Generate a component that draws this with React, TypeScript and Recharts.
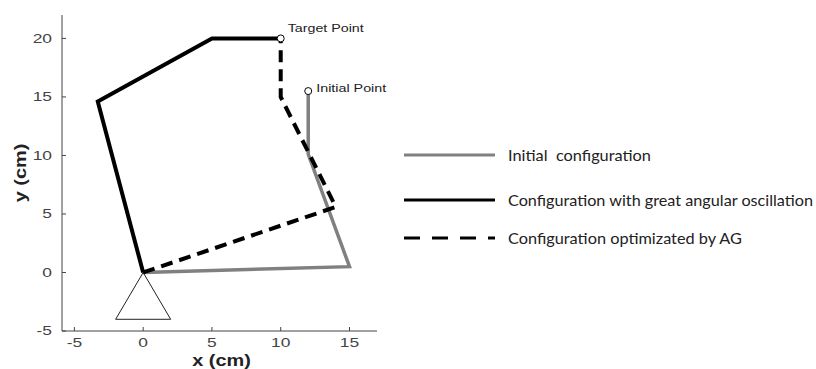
import React from 'react';
import { ComposedChart, Line, Scatter, XAxis, YAxis } from 'recharts';

// joint positions (cm)
const initialConfig = [
  { x: 0, y: 0 },
  { x: 15, y: 0.5 },
  { x: 12, y: 10.1 },
  { x: 12, y: 15.5 },
];
const oscillationConfig = [
  { x: 0, y: 0 },
  { x: -3.3, y: 14.6 },
  { x: 5, y: 20 },
  { x: 10, y: 20 },
];
const optimizedConfig = [
  { x: 0, y: 0 },
  { x: 14, y: 5.6 },
  { x: 10, y: 15 },
  { x: 10, y: 20 },
];
const baseTriangle = [
  { x: -2, y: -4 },
  { x: 0, y: 0 },
  { x: 2, y: -4 },
  { x: -2, y: -4 },
];
const markedPoints = [
  { x: 10, y: 20, name: 'Target Point' },
  { x: 12, y: 15.5, name: 'Initial Point' },
];
const xTicks = [-5, 0, 5, 10, 15];
const yTicks = [-5, 0, 5, 10, 15, 20];
const legendNames = [
  'Initial  configuration',
  'Configuration with great angular oscillation',
  'Configuration optimizated by AG',
];

const labelOffset: Record<string, { dx: number; dy: number; len: number }> = {
  'Target Point': { dx: 7, dy: -6, len: 76 },
  'Initial Point': { dx: 8, dy: 1, len: 70 },
};

const AxisTick = (props: any) => {
  const { x, y, payload, textAnchor } = props;
  const isX = textAnchor === 'middle';
  return (
    <g transform={`translate(${isX ? x : x - 5},${y}) scale(1.45,1)`}>
      <text x={0} y={0} dy={isX ? '0.71em' : '0.355em'} textAnchor={textAnchor} fontSize={12} fill="#444"
        fontFamily="'Liberation Sans', Arial, sans-serif">
        {payload.value}
      </text>
    </g>
  );
};

const PointMarker = (props: any) => {
  const { cx, cy, payload } = props;
  const off = labelOffset[payload.name];
  return (
    <g>
      <circle cx={cx} cy={cy} r={3.5} fill="#fff" stroke="#000" strokeWidth={1} />
      <text x={cx + off.dx} y={cy + off.dy} fontSize={11} fill="#222" textLength={off.len}
        lengthAdjust="spacingAndGlyphs" fontFamily="'Liberation Sans', Arial, sans-serif">
        {payload.name}
      </text>
    </g>
  );
};

const XLabel = (props: any) => {
  const { viewBox } = props;
  const cx = viewBox.x + viewBox.width / 2 + 2;
  return (
    <g transform={`translate(${cx},${viewBox.y + 35}) scale(1.17,1)`}>
      <text x={0} y={0} textAnchor="middle" fontSize={17} fontWeight="bold" fill="#222"
        fontFamily="'Liberation Sans', Arial, sans-serif">x (cm)</text>
    </g>
  );
};

const YLabel = (props: any) => {
  const { viewBox } = props;
  const cy = viewBox.y + viewBox.height / 2;
  return (
    <g transform={`translate(26,${cy}) rotate(-90) scale(1.17,1)`}>
      <text x={0} y={0} textAnchor="middle" fontSize={17} fontWeight="bold" fill="#222"
        fontFamily="'Liberation Sans', Arial, sans-serif">y (cm)</text>
    </g>
  );
};

const legendStyles = [
  { stroke: '#808080', dash: undefined, y: 155, len: 143 },
  { stroke: '#000', dash: undefined, y: 200, len: 305 },
  { stroke: '#000', dash: '16 12', y: 238, len: 234 },
];

const ChartLegend = () => (
  <svg width={816} height={369} style={{ position: 'absolute', left: 0, top: 0, pointerEvents: 'none' }}>
    {legendNames.map((name, i) => {
      const s = legendStyles[i];
      return (
        <g key={name}>
          <line x1={404} x2={495} y1={s.y} y2={s.y} stroke={s.stroke} strokeWidth={3} strokeDasharray={s.dash} />
          <text x={508} y={s.y + 5.5} fontSize={15} fill="#222" textLength={s.len}
            lengthAdjust="spacingAndGlyphs" style={{ whiteSpace: 'pre' }}
            fontFamily="Lato, 'Open Sans', sans-serif">{name}</text>
        </g>
      );
    })}
  </svg>
);

const App: React.FC = () => {
  return (
    <div style={{ position: 'absolute', left: 0, top: 0, width: 816, height: 369, background: '#fff' }}>
      <ComposedChart width={816} height={369} margin={{ top: 15, right: 439, left: 0, bottom: 0 }}>
        <XAxis
          type="number"
          dataKey="x"
          domain={[-5.9, 17]}
          ticks={xTicks}
          height={38}
          tickSize={-4}
          tickMargin={11}
          stroke="#444"
          tick={<AxisTick />}
          label={<XLabel />}
        />
        <YAxis
          type="number"
          dataKey="y"
          domain={[-5, 22]}
          ticks={yTicks}
          width={62}
          tickSize={-4}
          tickMargin={9}
          stroke="#444"
          tick={<AxisTick />}
          label={<YLabel />}
        />
        <Line data={initialConfig} dataKey="y" stroke="#808080" strokeWidth={3.5} dot={false}
          isAnimationActive={false} strokeLinejoin="miter" />
        <Line data={baseTriangle} dataKey="y" stroke="#222" strokeWidth={1} dot={false}
          isAnimationActive={false} />
        <Line data={oscillationConfig} dataKey="y" stroke="#000" strokeWidth={4} dot={false}
          isAnimationActive={false} />
        <Line data={optimizedConfig} dataKey="y" stroke="#000" strokeWidth={4} strokeDasharray="12 7"
          dot={false} isAnimationActive={false} />
        <Scatter data={markedPoints} dataKey="y" shape={<PointMarker />} isAnimationActive={false} />
      </ComposedChart>
      <ChartLegend />
    </div>
  );
};

export default App;
